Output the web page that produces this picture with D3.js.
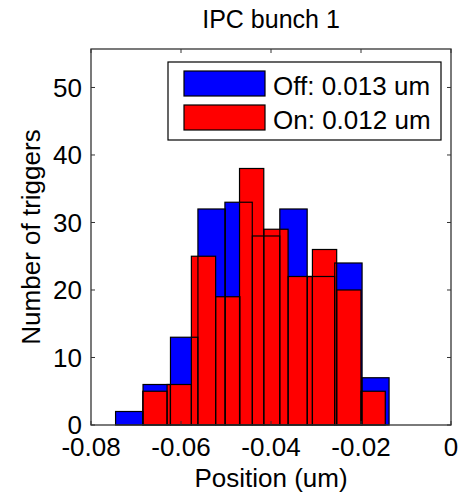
<!DOCTYPE html>
<html>
<head>
<meta charset="utf-8">
<script src="https://cdn.jsdelivr.net/npm/d3@7"></script>
<style>
  body { margin: 0; background: #fff; }
  text { font-family: "Liberation Sans", Arial, sans-serif; fill: #000; }
</style>
</head>
<body>
<script>
// histogram bin centres (um) and counts
const offCenters = [-0.0715, -0.0654, -0.0593, -0.0532, -0.0472, -0.0411, -0.0350, -0.0289, -0.0228, -0.0168]
const offCounts = [2, 6, 13, 32, 33, 28, 32, 22, 24, 7]
const onCenters = [-0.0658, -0.0604, -0.0550, -0.0496, -0.0443, -0.0389, -0.0335, -0.0281, -0.0227, -0.0173]
const onCounts = [5, 6, 25, 19, 38, 29, 22, 26, 20, 5]

const xTicks = [-0.08, -0.06, -0.04, -0.02, 0]
const yTicks = [0, 10, 20, 30, 40, 50]
const legendLabels = ["Off: 0.013 um", "On: 0.012 um"]
const titleText = "IPC bunch 1"
const xLabel = "Position (um)"
const yLabel = "Number of triggers"

const width = 459
const height = 497
const padding = { top: 49, right: 8, bottom: 72, left: 91 }
const graphWidth = width - padding.left - padding.right
const graphHeight = height - padding.top - padding.bottom

const svg = d3.select("body").append("svg").attr("width", width).attr("height", height)

const scaleX = d3.scaleLinear().domain([-0.08, 0]).range([0, graphWidth])
const scaleY = d3.scaleLinear().domain([0, 55.7]).range([graphHeight, 0])

// matlab style labels: plain hyphen, no unicode minus
const xTickFormat = t => String(t)

const makeBins = (centers, counts) => {
  const w = (centers[centers.length - 1] - centers[0]) / (centers.length - 1)
  return centers.map((c, i) => ({ x0: c - w / 2, x1: c + w / 2, n: counts[i] }))
}
const offBins = makeBins(offCenters, offCounts)
const onBins = makeBins(onCenters, onCounts)

const g = svg.append("g").attr("transform", `translate(${padding.left},${padding.top})`)

const drawBars = (bins, fill, stroke) => {
  g.append("g").selectAll("rect").data(bins).join("rect")
    .attr("x", d => scaleX(d.x0))
    .attr("width", d => scaleX(d.x1) - scaleX(d.x0))
    .attr("y", d => scaleY(d.n))
    .attr("height", d => scaleY(0) - scaleY(d.n))
    .style("fill", fill)
    .style("stroke", stroke)
    .style("stroke-width", 1.2)
}

// faces first, then outlines (matlab shows the blue edges through the red faces)
drawBars(offBins, "#0000ff", "none")
drawBars(onBins, "#ff0000", "none")
drawBars(offBins, "none", "#000")
drawBars(onBins, "none", "#000")

// axes box with inward ticks on all sides
const axisColor = "#333"
const tickLen = 4
g.append("rect").attr("width", graphWidth).attr("height", graphHeight)
  .style("fill", "none").style("stroke", axisColor).style("stroke-width", 1.3)

xTicks.forEach(t => {
  const x = scaleX(t)
  g.append("line").attr("x1", x).attr("x2", x).attr("y1", graphHeight).attr("y2", graphHeight - tickLen).style("stroke", axisColor)
  g.append("line").attr("x1", x).attr("x2", x).attr("y1", 0).attr("y2", tickLen).style("stroke", axisColor)
  g.append("text").text(xTickFormat(t))
    .attr("x", x).attr("y", graphHeight + 31)
    .attr("text-anchor", "middle").style("font-size", "26px")
})

yTicks.forEach(t => {
  const y = scaleY(t)
  g.append("line").attr("x1", 0).attr("x2", tickLen).attr("y1", y).attr("y2", y).style("stroke", axisColor)
  g.append("line").attr("x1", graphWidth).attr("x2", graphWidth - tickLen).attr("y1", y).attr("y2", y).style("stroke", axisColor)
  g.append("text").text(t)
    .attr("x", -9).attr("y", y).attr("dy", "0.36em")
    .attr("text-anchor", "end").style("font-size", "26px")
})

svg.append("text").text(titleText)
  .attr("x", padding.left + graphWidth / 2).attr("y", 28)
  .attr("text-anchor", "middle").style("font-size", "25px")

svg.append("text").text(xLabel)
  .attr("x", padding.left + graphWidth / 2).attr("y", 487)
  .attr("text-anchor", "middle").style("font-size", "26px")

svg.append("text").text(yLabel)
  .attr("transform", `translate(40,${padding.top + graphHeight / 2}) rotate(-90)`)
  .attr("text-anchor", "middle").style("font-size", "26px")

// legend
const legend = svg.append("g").attr("transform", "translate(168,62)")
legend.append("rect").attr("width", 273).attr("height", 78)
  .style("fill", "#fff").style("stroke", "#000").style("stroke-width", 1.2)
const legendColors = ["#0000ff", "#ff0000"]
legendLabels.forEach((lab, i) => {
  const y = 9 + i * 34
  legend.append("rect").attr("x", 16).attr("y", y).attr("width", 81).attr("height", 25)
    .style("fill", legendColors[i]).style("stroke", "#000").style("stroke-width", 1.2)
  legend.append("text").text(lab).attr("x", 105).attr("y", y + 24)
    .style("font-size", "26px")
})
</script>
</body>
</html>
